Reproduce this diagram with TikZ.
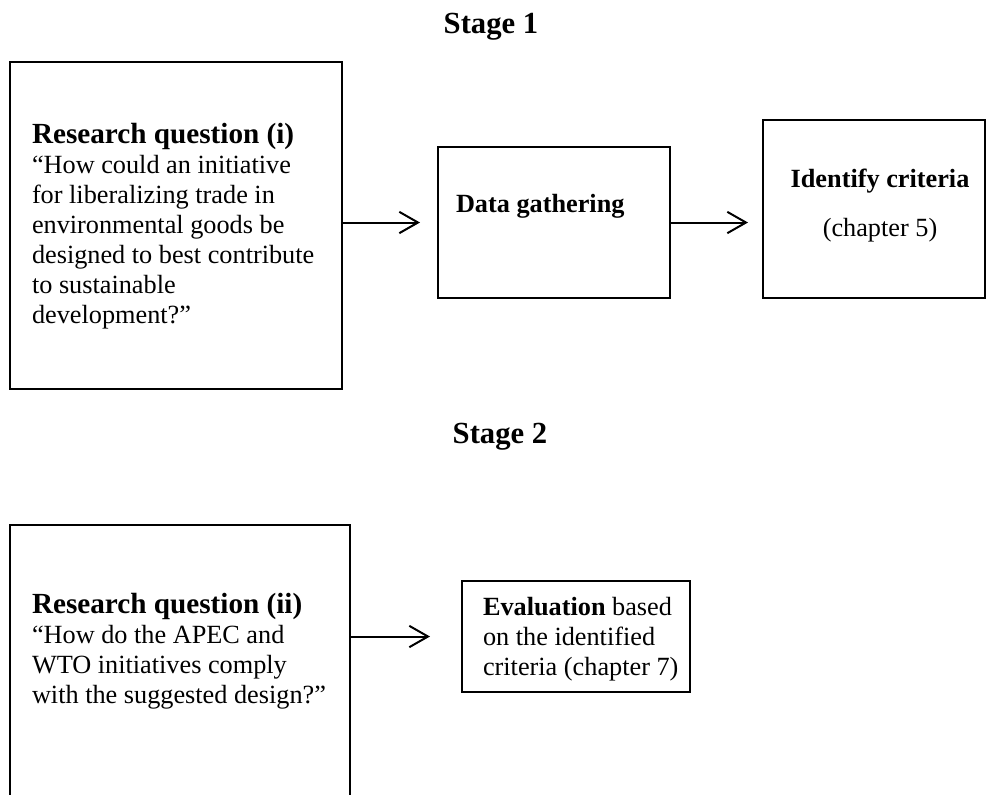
\documentclass[tikz,border=0pt]{standalone}
\usepackage{fontspec}
\setmainfont{Liberation Serif}
\usetikzlibrary{arrows.meta}
\newcommand{\rqhead}[1]{{\fontsize{21.9pt}{22.5pt}\selectfont\bfseries #1}}
\tikzset{
  boxnode/.style={draw, line width=1.5pt, inner sep=0pt, outer sep=0pt},
  txt/.style={inner sep=0pt, outer sep=0pt, anchor=base west, align=left,
    font=\fontsize{19.7pt}{22.5pt}\selectfont},
  ctxt/.style={inner sep=0pt, outer sep=0pt, anchor=base,
    font=\fontsize{19.7pt}{22.5pt}\selectfont},
  head/.style={inner sep=0pt, outer sep=0pt, anchor=base,
    font=\fontsize{23pt}{27pt}\selectfont\bfseries},
  arr/.style={line width=1.5pt, -{Straight Barb[length=14pt, width=16pt, line width=1.5pt]}}
}
\begin{document}
\begin{tikzpicture}[x=0.75pt, y=-0.75pt]
\useasboundingbox (0,0) rectangle (987,794);
\clip (0,0) rectangle (987,794);
% headings
\node[head] (s1) at (491,33) {Stage 1};
\node[head] (s2) at (500,443) {Stage 2};
% boxes
\node[boxnode, minimum width=249pt, minimum height=245.25pt] (A) at (176,225.5) {};
\node[boxnode, minimum width=174pt, minimum height=113.25pt] (B) at (554,222.5) {};
\node[boxnode, minimum width=166.5pt, minimum height=133.5pt] (C) at (874,209) {};
\node[boxnode, minimum width=255pt, minimum height=213.75pt] (D) at (180,667.5) {};
\node[boxnode, minimum width=171pt, minimum height=83.25pt] (E) at (576,636.5) {};
% texts (base anchor = baseline of last line)
\node[txt] (tA) at (32,323) {\rqhead{Research question (i)}\\“How could an initiative\\for liberalizing trade in\\environmental goods be\\designed to best contribute\\to sustainable\\development?”};
\node[txt] (tB) at (456,212) {\textbf{Data gathering}};
\node[ctxt] (tC1) at (880,187) {\textbf{Identify criteria}};
\node[ctxt] (tC2) at (880,236) {(chapter 5)};
\node[txt] (tD) at (32,703) {\rqhead{Research question (ii)}\\“How do the APEC and\\WTO initiatives comply\\with the suggested design?”};
\node[txt] (tE) at (483,675) {\textbf{Evaluation} based\\on the identified\\criteria (chapter 7)};
% arrows
\draw[arr, shorten >=13.5pt] (A.east |- B.west) -- (B.west);
\draw[arr, shorten >=11.25pt] (B.east) -- (B.east -| C.west);
\draw[arr, shorten >=24pt] (D.east |- E.west) -- (E.west);
\end{tikzpicture}
\end{document}
